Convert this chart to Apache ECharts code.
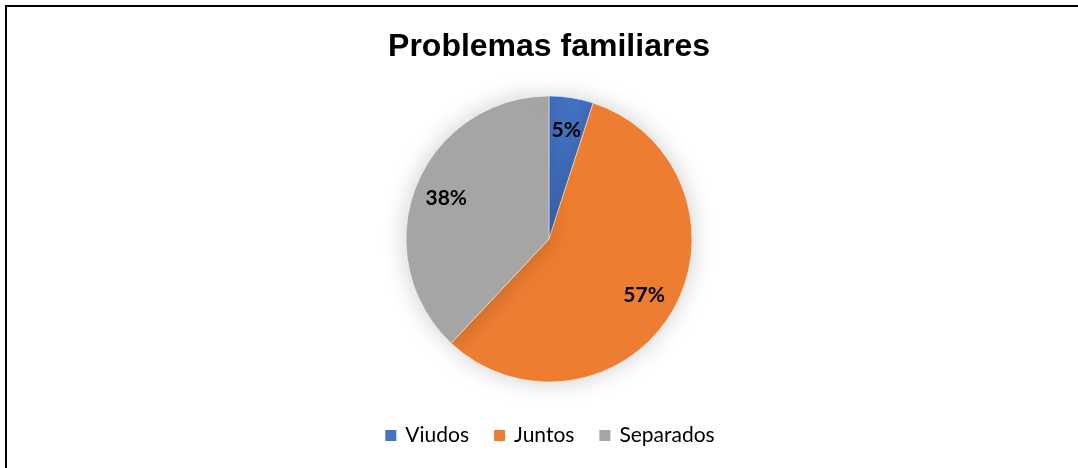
<!DOCTYPE html>
<html>
<head>
<meta charset="utf-8">
<script src="https://cdn.jsdelivr.net/npm/echarts@6/dist/echarts.min.js"></script>
<style>
  html, body { margin: 0; padding: 0; background: #fff; overflow: hidden; width: 1078px; height: 468px; }
  /* el lienzo es más ancho para que el centro quede en x = 549 */
  #wrap { position: absolute; left: 0; top: 0; width: 1078px; height: 468px; overflow: hidden; }
  #chart { position: absolute; left: 0; top: 0; width: 1098px; height: 468px; }
</style>
</head>
<body>
<div id="wrap"><div id="chart"></div></div>
<script>
// datos
const categories = ['Viudos', 'Juntos', 'Separados']
const values = [5, 57, 38]
const colors = ['#4472C4', '#ED7D31', '#A5A5A5']

const pieData = categories.map((name, i) => ({
  name,
  value: values[i],
  itemStyle: { color: colors[i] }
}))

const chart = echarts.init(document.getElementById('chart'))

const option = {
  animation: false,
  // marco: sólo se ven los bordes superior e izquierdo
  graphic: [{
    type: 'polyline',
    shape: { points: [[6, 470], [6, 6], [1100, 6]] },
    style: { stroke: '#000', lineWidth: 2, fill: null },
    silent: true
  }],
  title: {
    text: 'Problemas familiares',
    left: 'center',
    top: 26,
    textStyle: {
      fontFamily: 'Liberation Sans, Arial, sans-serif',
      fontSize: 32,
      fontWeight: 'bold',
      color: '#000'
    }
  },
  legend: {
    bottom: 17,
    left: 'center',
    icon: 'rect',
    itemWidth: 13,
    itemHeight: 13,
    itemGap: 23,
    data: categories,
    textStyle: {
      fontFamily: 'Lato, Open Sans, sans-serif',
      fontSize: 21,
      color: '#000',
      padding: [0, 0, 0, 3]
    }
  },
  series: [
    {
      // sectores
      type: 'pie',
      center: [549, 239],
      radius: 143,
      startAngle: 90,
      clockwise: true,
      label: { show: false },
      labelLine: { show: false },
      itemStyle: {
        borderColor: '#fff',
        borderWidth: 0.5,
        shadowBlur: 24,
        shadowColor: 'rgba(0, 0, 0, 0.2)'
      },
      emphasis: { disabled: true },
      data: pieData
    },
    {
      // capa transparente para colocar las etiquetas más afuera
      type: 'pie',
      center: [549, 239],
      radius: [72, 143],
      startAngle: 90,
      clockwise: true,
      silent: true,
      itemStyle: { color: 'transparent' },
      label: {
        show: true,
        position: 'inside',
        formatter: '{d}%',
        fontFamily: 'Lato, Open Sans, sans-serif',
        fontSize: 21,
        fontWeight: 'bold',
        color: '#000'
      },
      labelLine: { show: false },
      emphasis: { disabled: true },
      data: pieData.map(d => ({ name: d.name, value: d.value, itemStyle: { color: 'transparent' } }))
    }
  ]
}

chart.setOption(option)
</script>
</body>
</html>
